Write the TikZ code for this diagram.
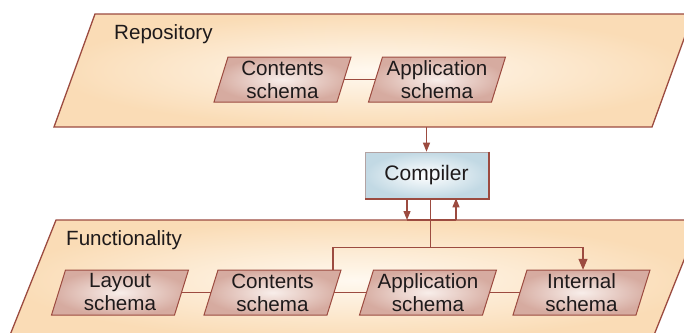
\documentclass[tikz,border=0pt]{standalone}
\usepackage{fontspec}
\setmainfont{Liberation Sans}
\usetikzlibrary{arrows.meta,calc}

\definecolor{edge}{HTML}{9C4B40}
\definecolor{ink}{HTML}{1E1A1B}
\definecolor{peach}{HTML}{FADCB6}
\definecolor{peachlight}{HTML}{FFF9F0}
\definecolor{rose}{HTML}{D6ABA0}
\definecolor{roselight}{HTML}{F8EEEA}
\definecolor{ice}{HTML}{C2D9E4}
\definecolor{rim}{HTML}{B3A3A3}

\tikzset{
  zone/.style={draw=edge, line width=1.3pt, inner color=peachlight, outer color=peach},
  slantfill/.style={draw=edge, line width=1pt, inner color=roselight, outer color=rose},
  boxtext/.style={align=center, minimum width=123pt, minimum height=45pt,
    inner sep=0pt, text=ink, font=\fontsize{20.6}{23}\selectfont},
  zonetext/.style={text=ink, inner sep=0pt, font=\fontsize{20.6}{23}\selectfont},
  compbox/.style={draw=rim, line width=0.6pt, inner color=white, outer color=ice,
    minimum width=123pt, minimum height=46pt, inner sep=0pt, text=ink,
    font=\fontsize{21}{24}\selectfont},
  link/.style={draw=edge, line width=1.2pt},
  thinlink/.style={draw=edge, line width=0.8pt},
  arrowline/.style={link, -{Triangle[width=7pt,length=9pt]}},
  bigarrow/.style={link, -{Triangle[width=9pt,length=11pt]}},
}

% slanted schema box: name, centre x, centre y, label
\newcommand{\schemabox}[4]{%
  \path[slantfill] ({#2-68.5},{#3+22.5}) -- ({#2-54.5},{#3-22.5})
    -- ({#2+68.5},{#3-22.5}) -- ({#2+54.5},{#3+22.5}) -- cycle;
  \node[boxtext] (#1) at (#2,#3) {#4};}

\begin{document}
\begin{tikzpicture}[x=1pt,y=-1pt]
  \useasboundingbox (0,0) rectangle (684,332);
  \fill[white] (0,0) rectangle (684,332);
  \clip (0,0) rectangle (684,332);

  % Repository layer
  \path[zone] (54,127) -- (95,14) -- (693,14) -- (652,127) -- cycle;
  \node[zonetext, anchor=base west] (replabel) at (114,39.5) {Repository};
  \schemabox{rcs}{282.5}{79.5}{Contents\\schema}
  \schemabox{ras}{437}{79.5}{Application\\schema}
  \draw[link] (rcs.east) -- (ras.west);
  \coordinate (repout) at (426.5,127);

  % Functionality layer
  \path[zone] (8,340) -- (56,220) -- (700,220) -- (652,340) -- cycle;
  \node[zonetext, anchor=base west] (funlabel) at (66,245.5) {Functionality};
  \schemabox{flay}{120}{292.5}{Layout\\schema}
  \schemabox{fcs}{272.5}{292.5}{Contents\\schema}
  \schemabox{fas}{428}{292.5}{Application\\schema}
  \schemabox{fis}{581.5}{292.5}{Internal\\schema}
  \draw[link] (flay.east) -- (fcs.west);
  \draw[link] (fcs.east) -- (fas.west);
  \draw[link] (fas.east) -- (fis.west);

  % Compiler
  \node[compbox] (comp) at (426.5,175) {Compiler};
  \draw[edge, line width=1.6pt] ([xshift=0.8pt]comp.north east)
    -- ([shift={(0.8pt,-0.8pt)}]comp.south east) -- ([yshift=-0.8pt]comp.south west);

  % Connectors
  \draw[arrowline] (repout) -- (comp.north);
  \coordinate (fin) at (407,220);
  \coordinate (fout) at (456,220);
  \draw[arrowline] (comp.south -| fin) -- (fin);
  \draw[arrowline] (fout) -- (comp.south -| fout);
  \draw[link] (fin) -- (fout);
  \draw[thinlink] ([xshift=3.5pt]comp.south) -- ++(0,50);
  \draw[bigarrow] ([xshift=60.5pt]fcs.north) -- ++(0,-22) -| ([xshift=1.5pt]fis.north);
\end{tikzpicture}
\end{document}
